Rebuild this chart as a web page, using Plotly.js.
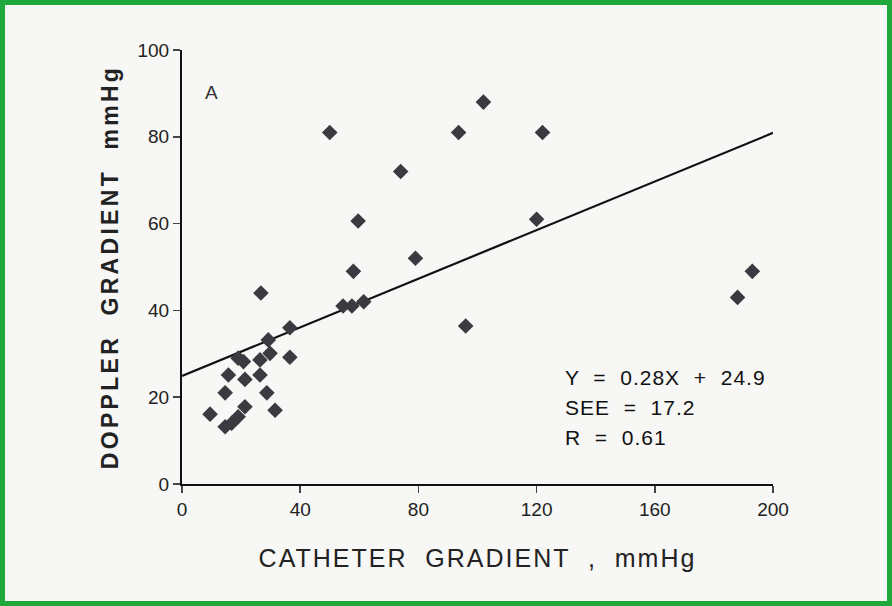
<!DOCTYPE html>
<html><head><meta charset="utf-8">
<script src="https://cdn.plot.ly/plotly-3.0.1.min.js"></script>
<style>
html,body{margin:0;padding:0;background:#fff;}
#frame{width:892px;height:606px;box-sizing:border-box;border:5px solid #1fa83c;background:#f7f7f5;}
#chart{width:882px;height:596px;}
.xtitle{letter-spacing:2px;}
.ytitle{letter-spacing:3.3px;}
.annotation-text{letter-spacing:1px;}
</style></head><body>
<div id="frame"><div id="chart"></div></div>
<script>
const catheter = [50,102,93.6,122,74,59.6,120,79,58,26.7,54.5,57.5,61.5,36.5,96,188,193,29.2,19,20.8,26.4,29.8,36.5,15.7,21.3,26.4,14.6,28.7,9.5,31.5,14.6,16.8,19,21.3];
const doppler  = [81,88,81,81,72,60.6,61,52,49,44,41,41,42,36,36.4,43,49,33.2,29,28.2,28.6,30.1,29.2,25.1,24.1,25.1,21,21,16.1,17,13.2,14,15.5,17.8];
const slope = 0.28, intercept = 24.9;
const fitX = [0, 200];
const fitY = fitX.map(x => slope*x + intercept);
const statLines = ["Y  =  0.28X  +  24.9", "SEE  =  17.2", "R  =  0.61"];

const font = "Liberation Sans, Arial, sans-serif";
const data = [
  {x: fitX, y: fitY, mode: 'lines', line: {color: '#111', width: 2.2}, hoverinfo: 'skip'},
  {x: catheter, y: doppler, mode: 'markers', marker: {symbol: 'diamond', size: 12, color: '#3a3a40'}}
];
const layout = {
  width: 882, height: 596,
  margin: {l: 177, r: 114, t: 45, b: 117},
  paper_bgcolor: '#f7f7f5', plot_bgcolor: '#f7f7f5',
  showlegend: false,
  font: {family: font, color: '#222'},
  xaxis: {range: [0, 200], tickvals: [0,40,80,120,160,200], ticks: 'outside', ticklen: 7, tickwidth: 1.5,
    showline: true, linecolor: '#111', linewidth: 2, showgrid: false, zeroline: false,
    tickfont: {size: 19, family: font, color: '#222'},
    title: {text: 'CATHETER  GRADIENT  ,  mmHg', font: {size: 25, family: font, color: '#222'}, standoff: 31}},
  yaxis: {range: [0, 100], tickvals: [0,20,40,60,80,100], ticks: 'outside', ticklen: 7, tickwidth: 1.5,
    showline: true, linecolor: '#111', linewidth: 2, showgrid: false, zeroline: false,
    tickfont: {size: 19, family: font, color: '#222'},
    title: {text: '<b>DOPPLER  GRADIENT  mmHg</b>', font: {size: 23, family: font, color: '#222'}, standoff: 12}},
  annotations: [
    {text: 'A', x: 0.035, y: 0.932, xref: 'paper', yref: 'paper', showarrow: false, font: {size: 19, family: font, color: '#333'}},
    ...statLines.map((t, i) => ({text: t, x: 0.644, y: 0.215 - i*0.07, xref: 'paper', yref: 'paper', xanchor: 'left', showarrow: false, font: {size: 21, family: font, color: '#111'}}))
  ]
};
Plotly.newPlot('chart', data, layout, {displayModeBar: false, staticPlot: true});
</script></body></html>
